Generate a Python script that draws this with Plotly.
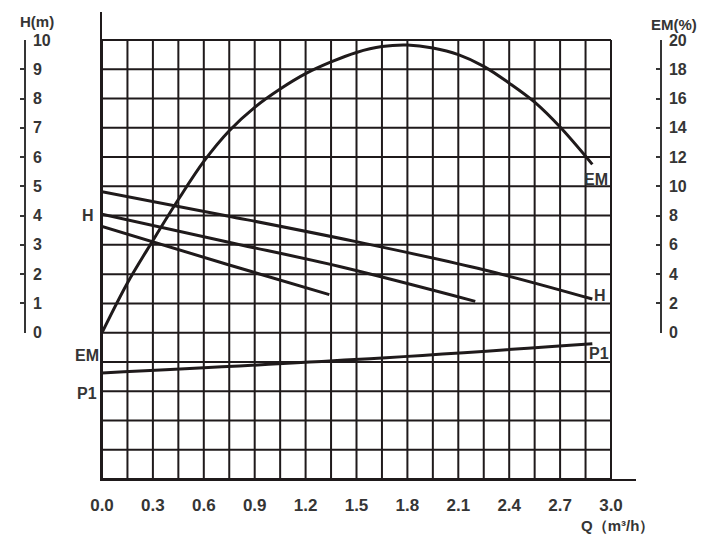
import plotly.graph_objects as go

# ---- data ----
q_ticks = [0.0, 0.3, 0.6, 0.9, 1.2, 1.5, 1.8, 2.1, 2.4, 2.7, 3.0]
h_ticks = [0, 1, 2, 3, 4, 5, 6, 7, 8, 9, 10]
em_ticks = [0, 2, 4, 6, 8, 10, 12, 14, 16, 18, 20]

# H curves (three speeds), Q in m3/h, H in m
h1_q = [0.0, 0.74, 1.49, 2.25, 2.89]
h1_h = [4.82, 3.99, 3.12, 2.15, 1.15]
h2_q = [0.0, 0.74, 1.40, 2.20]
h2_h = [4.05, 3.10, 2.26, 1.07]
h3_q = [0.0, 0.74, 1.34]
h3_h = [3.63, 2.33, 1.30]

# efficiency curve EM (%)
em_q = [0.0, 0.15, 0.3, 0.45, 0.6, 0.75, 0.9, 1.05, 1.2, 1.35, 1.5,
        1.65, 1.8, 1.95, 2.1, 2.25, 2.4, 2.55, 2.7, 2.89]
em_v = [0.0, 3.4, 6.3, 9.1, 11.7, 13.8, 15.4, 16.65, 17.7, 18.5, 19.15,
        19.55, 19.65, 19.45, 19.0, 18.2, 17.05, 15.75, 14.05, 11.5]

# P1 line (no scale shown; in grid units)
p1_q = [0.0, 1.49, 2.89]
p1_v = [-1.376, -0.92, -0.375]

# grid
grid_q = [i * 0.15 for i in range(21)]
grid_y = list(range(-5, 11))

W, H = 710, 542
OFF = 8  # page body margin
INK = "#1f1a1b"
TXT = "#353535"
FONT = "Liberation Sans"


def px(x):
    return (x - OFF) / W


def py(y):
    return 1 - (y - OFF) / H


fig = go.Figure()

line_style = dict(color=INK, width=3, shape="spline")
fig.add_trace(go.Scatter(x=h1_q, y=h1_h, mode="lines", line=line_style,
                         yaxis="y2", showlegend=False, hoverinfo="skip"))
fig.add_trace(go.Scatter(x=h2_q, y=h2_h, mode="lines", line=line_style,
                         yaxis="y2", showlegend=False, hoverinfo="skip"))
fig.add_trace(go.Scatter(x=h3_q, y=h3_h, mode="lines", line=line_style,
                         yaxis="y2", showlegend=False, hoverinfo="skip"))
fig.add_trace(go.Scatter(x=em_q, y=em_v, mode="lines", line=line_style,
                         yaxis="y3", showlegend=False, hoverinfo="skip"))
fig.add_trace(go.Scatter(x=p1_q, y=p1_v, mode="lines", line=line_style,
                         yaxis="y", showlegend=False, hoverinfo="skip"))

shapes = []
for gq in grid_q:
    shapes.append(dict(type="line", xref="x", yref="y", x0=gq, x1=gq, y0=-5, y1=10,
                       line=dict(color=INK, width=2), layer="below"))
for gy in grid_y:
    shapes.append(dict(type="line", xref="x", yref="y", x0=0, x1=3.0, y0=gy, y1=gy,
                       line=dict(color=INK, width=2), layer="below"))

x_dom = [px(102), px(636)]
y_dom = [py(479), py(12)]
sub_dom = [py(332.7), py(40)]

tickfont = dict(family=FONT, size=16, color=TXT, weight="bold")

ann = []


def label(text, x, y, xanchor="center", size=15):
    ann.append(dict(text=text, x=px(x), y=py(y), xref="paper", yref="paper",
                    xanchor=xanchor, yanchor="middle", showarrow=False,
                    font=dict(family=FONT, size=size, color=TXT, weight="bold")))


label("H", 96, 215, "right", 16)
label("EM", 101, 355, "right", 16)
label("P1", 99, 393, "right", 16)
label("EM", 596, 179, size=16)
label("H", 600, 295, size=16)
label("P1", 599, 353, size=16)
label("H(m)", 37, 22, size=15)
label("EM(%)", 674, 24, size=15)
label("Q（m³/h）", 617, 525, size=15)

fig.update_layout(
    width=W, height=H, autosize=False,
    margin=dict(l=0, r=0, t=0, b=0),
    paper_bgcolor="white", plot_bgcolor="rgba(0,0,0,0)",
    shapes=shapes, annotations=ann,
    xaxis=dict(domain=x_dom, range=[0, 3.0 + 25 / 169.67], anchor="y",
               showgrid=False, zeroline=False, showline=True, linecolor=INK, linewidth=2,
               tickmode="array", tickvals=q_ticks, ticktext=[f"{v:.1f}" for v in q_ticks],
               ticks="", ticklabelstandoff=10,
               tickfont=dict(family=FONT, size=17, color=TXT, weight="bold"),
               automargin=False),
    yaxis=dict(domain=y_dom, range=[-5, 10 + 28 / 29.27], anchor="x",
               showgrid=False, zeroline=False, showline=True, linecolor=INK, linewidth=2,
               showticklabels=False, ticks="", automargin=False),
    yaxis2=dict(domain=sub_dom, range=[0, 10], anchor="free", position=px(25), side="right",
                showgrid=False, zeroline=False, showline=True, linecolor=TXT, linewidth=1.5,
                tickmode="array", tickvals=h_ticks, ticks="inside", ticklen=4, tickwidth=1.5,
                tickcolor=TXT, tickfont=tickfont, ticklabelstandoff=4, automargin=False),
    yaxis3=dict(domain=sub_dom, range=[0, 20], anchor="free", position=px(661), side="right",
                showgrid=False, zeroline=False, showline=True, linecolor=TXT, linewidth=1.5,
                tickmode="array", tickvals=em_ticks, ticks="inside", ticklen=4, tickwidth=1.5,
                tickcolor=TXT, tickfont=tickfont, ticklabelstandoff=4, automargin=False),
)

fig.write_html("out.html")
